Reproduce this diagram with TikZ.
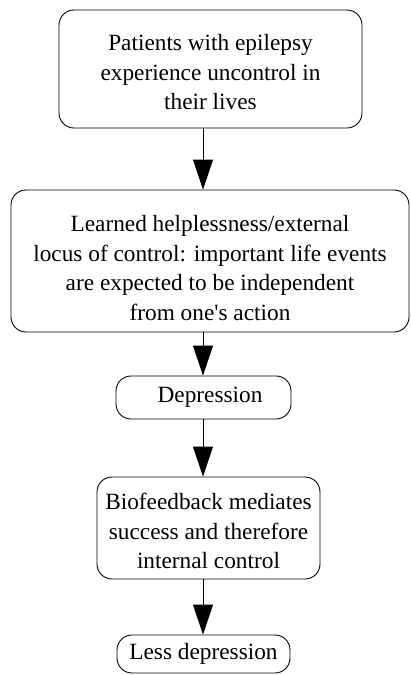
\documentclass[tikz,border=0pt]{standalone}
\usepackage{fontspec}
\setmainfont{Liberation Serif}[Ligatures=TeXOff]
\usetikzlibrary{arrows.meta}
\newcommand{\topstrut}[1]{\rule{0pt}{#1}}
\begin{document}
\begin{tikzpicture}[x=1pt,y=-1pt,
  box/.style={draw,line width=0.9pt,rounded corners=15pt,align=center,inner sep=0pt,
    font=\fontsize{23.3}{29.5}\selectfont},
  arr/.style={line width=0.9pt,-{Triangle[width=20pt,length=30pt]}}]
\useasboundingbox (0,0) rectangle (410,675);
\node[box,minimum width=303pt,minimum height=118pt] (b1) at (210.5,69)
  {\topstrut{22.5pt}Patients with epilepsy\\experience uncontrol in\\their lives};
\node[box,minimum width=398pt,minimum height=142pt] (b2) at (210,261)
  {\topstrut{30.5pt}Learned helplessness/external\\locus of control: important life events\\are expected to be independent\\from one's action};
\node[box,minimum width=175pt,minimum height=43pt] (b3) at (203.5,397.5)
  {\hspace*{13pt}Depression};
\node[box,minimum width=223pt,minimum height=102pt] (b4) at (208.5,528)
  {\topstrut{22.5pt}Biofeedback mediates\\success and therefore\\internal control};
\node[box,minimum width=173pt,minimum height=38pt] (b5) at (203.5,654)
  {Less depression};
\coordinate (ax) at (203,0);
\draw[arr] (b1.south -| ax) -- (b2.north -| ax);
\draw[arr] (b2.south -| ax) -- (b3.north -| ax);
\draw[arr] (b3.south -| ax) -- (b4.north -| ax);
\draw[arr] (b4.south -| ax) -- (b5.north -| ax);
\end{tikzpicture}
\end{document}
